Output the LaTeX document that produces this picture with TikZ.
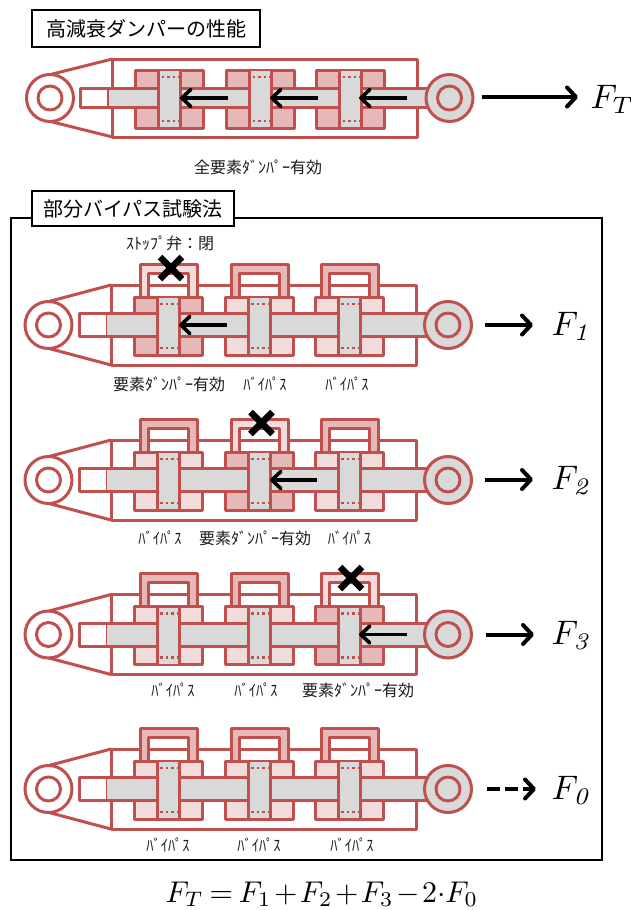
\documentclass[tikz,border=0pt]{standalone}
\usepackage{fontspec}
\usepackage{amsmath}
\usepackage{tikz}
\usetikzlibrary{arrows.meta}
\newfontfamily\jpfont{Noto Sans CJK JP}

\definecolor{dred}{HTML}{C0504D}
\definecolor{dgray}{HTML}{D9D9D9}
\definecolor{cellon}{HTML}{E6B8B7}
\definecolor{cellby}{HTML}{F2DCDB}
\colorlet{loopon}{cellby}
\colorlet{loopby}{cellon}

\tikzset{
  dline/.style={draw=dred, line width=3pt, line join=round},
  titlebox/.style={draw=black, fill=white, line width=2pt, inner sep=0pt, font=\jpfont\fontsize{20}{24}\selectfont},
  note/.style={inner sep=0pt, font=\jpfont\fontsize{16}{20}\selectfont, text=black!90},
  bynote/.style={inner sep=0pt, xscale=.9, font=\jpfont\fontsize{16}{20}\selectfont, text=black!90},
  flabel/.style={anchor=base west, inner sep=0pt, scale=3.4},
  inarrow/.style={line width=3.6pt, -{Straight Barb[length=9pt,width=17pt,round]}},
  outarrow/.style={line width=4pt, -{Straight Barb[length=9pt,width=19pt,round]}},
  crossmark/.style={line width=6.5pt, black}
}

% #1 x, #2 y, #3 half height of body, #4 half height of rod, #5 #6 #7 modes, #8 loops 1/0
\newcommand{\damper}[8]{%
\begin{scope}[shift={(#1,#2)}]
% Caja y orejeta
\draw[dline] (49,-23.5) -- (111,-#3) (49,23.5) -- (111,#3);
\draw[dline] (111,-#3) rectangle (416,#3);
\ifnum#8=1
  \foreach \cx/\m in {134/#5,225/#6,315/#7}{
    \draw[dline, fill=loop\m] (\cx+6,-28) -- (\cx+6,-61) -- (\cx+63,-61) -- (\cx+63,-28)
      -- (\cx+54,-28) -- (\cx+54,-52) -- (\cx+14,-52) -- (\cx+14,-28) -- cycle;
  }
\fi
\foreach \cx/\m in {134/#5,225/#6,315/#7}{
  \draw[dline, fill=cell\m] (\cx,-28) rectangle (\cx+68,30);
}
% Vastago
\draw[dline, fill=white] (79,-#4) rectangle (107,#4);
\fill[dgray] (107,-#4) rectangle (428,#4);
\draw[dline] (107,-#4) -- (428,-#4) (107,#4) -- (428,#4);
% Pistones
\foreach \cx in {134,225,315}{
  \fill[dgray] (\cx+23,-27) rectangle (\cx+45,29);
  \draw[dline] (\cx+23,-28) -- (\cx+23,30) (\cx+45,-28) -- (\cx+45,30);
  \draw[dred, line width=2.4pt, dash pattern=on 2.5pt off 3pt] (\cx+26,-21) -- (\cx+43,-21) (\cx+26,23) -- (\cx+43,23);
}
% Ojos
\draw[dline, fill=white] (48.5,0) circle (23.5);
\draw[dline, fill=white] (48.5,0) circle (12);
\draw[dline, fill=dgray] (448,0) circle (23.5);
\draw[dline, fill=dgray] (448,0) circle (12);
\end{scope}
}

\begin{document}
\begin{tikzpicture}[x=1pt, y=-1pt]
\useasboundingbox (0,0) rectangle (630,910);

% Marco inferior
\draw[black, line width=2pt] (11,218) rectangle (602,860);

% Titulos
\node[titlebox, minimum width=228pt, minimum height=37pt] (titleA) at (146,28.5) {高減衰ダンパーの性能};
\node[titlebox, minimum width=202pt, minimum height=35pt] (titleB) at (133,208.5) {部分バイパス試験法};

% Amortiguador superior
\damper{1.5}{98}{39}{9.5}{on}{on}{on}{0}
\node[note] (allOn) at (258,167) {全要素ﾀﾞﾝﾊﾟｰ有効};
\draw[inarrow] (228,98) -- (180,98);
\draw[inarrow] (318,98) -- (270,98);
\draw[inarrow] (407,98) -- (359,98);
\draw[outarrow] (482,97) -- (578,97);
\node[flabel] (FT) at (590,108) {$F_{T}$};

% Amortiguadores con derivacion
\foreach \y/\a/\b/\c in {325/on/by/by, 480/by/on/by, 634.5/by/by/on, 789/by/by/by}{
  \damper{0}{\y}{40}{11.5}{\a}{\b}{\c}{1}
}

% Valvulas cerradas
\draw[crossmark] (160,257) -- (182,279) (182,257) -- (160,279);
\draw[crossmark] (250.5,412) -- (272.5,434) (272.5,412) -- (250.5,434);
\draw[crossmark] (340,567) -- (362,589) (362,567) -- (340,589);
\node[note] (stopValve) at (170,243) {ｽﾄｯﾌﾟ弁：閉};

% Fuerzas internas
\draw[inarrow] (227,325) -- (179,325);
\draw[inarrow] (317,480) -- (270,480);
\draw[inarrow] (407,634.5) -- (359,634.5);

% Fuerzas externas
\draw[outarrow] (485,325) -- (533,325);
\node[flabel] (F1) at (551,335) {$F_{\mathit{1}}$};
\draw[outarrow] (485,479.5) -- (533,479.5);
\node[flabel] (F2) at (551,489) {$F_{\mathit{2}}$};
\draw[outarrow] (486,634.5) -- (534,634.5);
\node[flabel] (F3) at (551,644) {$F_{\mathit{3}}$};
\draw[outarrow, dash pattern=on 13pt off 5pt] (487,789) -- (536,789);
\node[flabel] (F0) at (551,799) {$F_{\mathit{0}}$};

% Rotulos
\node[note] (labA1) at (169,384) {要素ﾀﾞﾝﾊﾟｰ有効};
\node[bynote] (labA2) at (265,384) {ﾊﾞｲﾊﾟｽ};
\node[bynote] (labA3) at (347,384) {ﾊﾞｲﾊﾟｽ};
\node[bynote] (labB1) at (160,538) {ﾊﾞｲﾊﾟｽ};
\node[note] (labB2) at (255,538) {要素ﾀﾞﾝﾊﾟｰ有効};
\node[bynote] (labB3) at (349.5,538) {ﾊﾞｲﾊﾟｽ};
\node[bynote] (labC1) at (173,690) {ﾊﾞｲﾊﾟｽ};
\node[bynote] (labC2) at (256,690) {ﾊﾞｲﾊﾟｽ};
\node[note] (labC3) at (358,690) {要素ﾀﾞﾝﾊﾟｰ有効};
\node[bynote] (labD1) at (168,845) {ﾊﾞｲﾊﾟｽ};
\node[bynote] (labD2) at (259,845) {ﾊﾞｲﾊﾟｽ};
\node[bynote] (labD3) at (352,845) {ﾊﾞｲﾊﾟｽ};

% Formula
\node[anchor=base west, inner sep=0pt, scale=3] (formula) at (165,902) {$\thickmuskip=3.5mu \medmuskip=1.5mu F_{T}=F_{1}+F_{2}+F_{3}-2{\cdot}F_{0}$};
\end{tikzpicture}
\end{document}
